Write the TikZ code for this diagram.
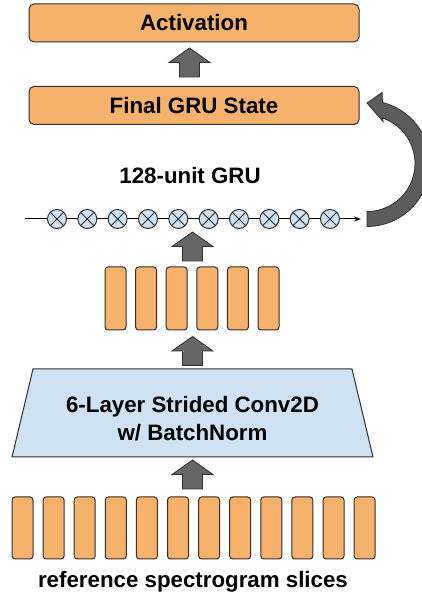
\documentclass[tikz,border=0pt]{standalone}
\usepackage{fontspec}
\setmainfont{Liberation Sans}
\usetikzlibrary{arrows.meta,calc}

\definecolor{boxorange}{HTML}{F6B26B}
\definecolor{convblue}{HTML}{CFE2F3}
\definecolor{arrowgray}{HTML}{666666}
\definecolor{edgegray}{HTML}{2E2E2E}

\tikzset{
    blockup/.pic={
        \draw[fill=arrowgray, draw=edgegray, line width=0.8pt]
            (-10,-14.5) -- (10,-14.5) -- (10,0) -- (20.5,0) -- (0,14.5) -- (-20.5,0) -- (-10,0) -- cycle;
    }
}

\begin{document}
\begin{tikzpicture}[x=1pt, y=1pt,
    layer/.style={rectangle, rounded corners=5pt, fill=boxorange, draw=edgegray, line width=1pt,
        minimum width=330pt, minimum height=38pt, inner sep=0pt, font=\bfseries\fontsize{22.3}{28}\selectfont},
    slice/.style={rectangle, rounded corners=3pt, fill=boxorange, draw=edgegray, line width=1pt,
        minimum width=21pt, inner sep=0pt},
    unit/.style={circle, fill=convblue, draw=edgegray, line width=1pt, minimum size=19pt, inner sep=0pt,
        path picture={\draw[edgegray, line width=0.9pt]
            (path picture bounding box.north west) -- (path picture bounding box.south east)
            (path picture bounding box.north east) -- (path picture bounding box.south west);}},
    lbl/.style={font=\bfseries\fontsize{22.3}{28}\selectfont, inner sep=0pt, anchor=base}
]
\clip (0,0) rectangle (422,599);

\node[layer] (act) at (194,576) {Activation};
\node[layer] (fin) at (194,493.5) {Final GRU State};
\pic at (189.5,536.5) {blockup};

\node[lbl] (grulbl) at (190,415) {128-unit GRU};

% recurrent units
\coordinate (gin) at (25,380);
\coordinate (gout) at (361,380);
\draw[line width=1pt, -{Stealth[length=7pt, width=5pt]}] (gin) -- (gout);
\foreach \i in {1,...,10}
    \node[unit] (g\i) at ({57+30.33*(\i-1)},380) {};

% loop back to final state
\coordinate (rc) at (367,435.5);
\filldraw[fill=arrowgray!90!black, draw=edgegray, line width=0.8pt]
    ($(rc)+(-90:63)$) arc[start angle=-90, end angle=75.8, radius=63]
    -- ($(rc)+(78:72.6)$) -- ($(rc)+(90:60.5)$) -- ($(rc)+(69:44.9)$)
    -- ($(rc)+(71.2:48)$) arc[start angle=71.2, end angle=-90, radius=48] -- cycle;

\pic at (192.5,352.5) {blockup};

\foreach \i in {0,...,5}
    \node[slice, minimum height=63pt] (f\i) at ({115.5+30.6*\i},300.5) {};

\pic at (192.5,248) {blockup};

% conv stack
\draw[fill=convblue, draw=edgegray, line width=1pt] (33,230) -- (352,230) -- (373,142) -- (12,142) -- cycle;
\node[align=center, inner sep=0pt, font=\bfseries\fontsize{22.3}{28}\selectfont] (convlbl) at (192.5,180.5)
    {6-Layer Strided Conv2D\\w/ BatchNorm};

\pic at (192.5,124.5) {blockup};

\foreach \i in {0,...,11}
    \node[slice, minimum height=62pt] (s\i) at ({22.5+31.1*\i},71) {};

\node[lbl] (speclbl) at (193,11) {reference spectrogram slices};

\end{tikzpicture}
\end{document}
